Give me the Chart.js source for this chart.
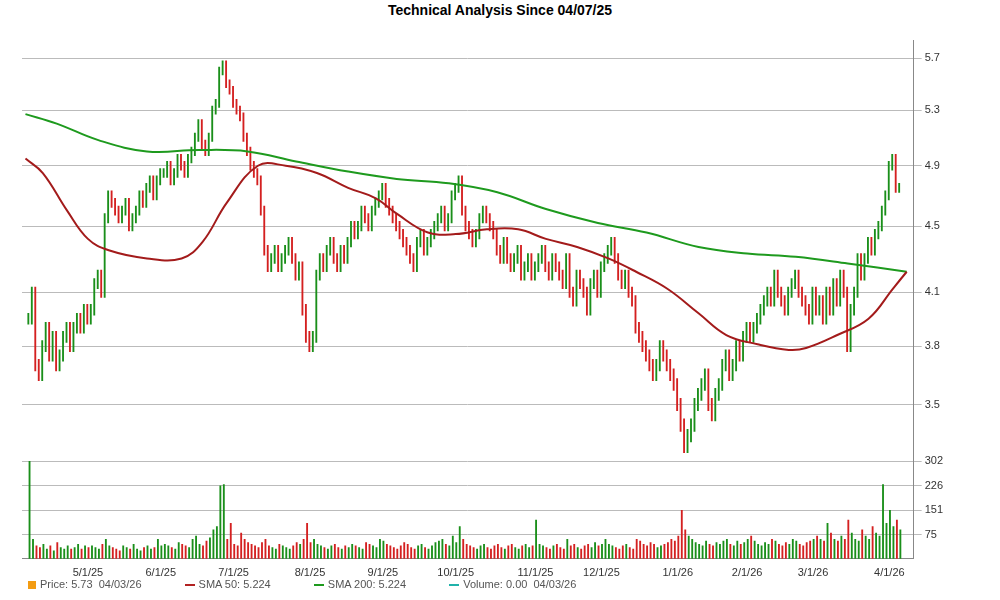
<!DOCTYPE html>
<html>
<head>
<meta charset="utf-8">
<script src="https://cdn.jsdelivr.net/npm/chart.js@4"></script>
<style>
  body { margin: 0; background: #fff; font-family: "Liberation Sans", Arial, sans-serif; }
  #wrap { position: relative; width: 1000px; height: 600px; }
  #title { position: absolute; top: 2px; width: 100%; text-align: center; font-weight: bold; font-size: 14px; }
  #legend { position: absolute; top: 578px; left: 28px; font-size: 11px; color: #555; white-space: nowrap; }
  #legend span.i { display: inline-block; margin-right: 40px; }
  .sw { display: inline-block; width: 8px; height: 8px; margin-right: 4px; vertical-align: middle; }
  .ln { display: inline-block; width: 10px; height: 2px; margin-right: 4px; vertical-align: middle; }
</style>
</head>
<body>
<div id="wrap">
  <div id="title">Technical Analysis Since 04/07/25</div>
  <canvas id="myChart" width="1000" height="580" style="position:absolute;top:0;left:0"></canvas>
  <div id="legend">
    <span class="i"><span class="sw" style="background:#f39c12"></span>Price: 5.73 &nbsp;04/03/26</span>
    <span class="i"><span class="ln" style="background:#b22222"></span>SMA 50: 5.224</span>
    <span class="i"><span class="ln" style="background:#1e9a1e"></span>SMA 200: 5.224</span>
    <span class="i"><span class="ln" style="background:#20b2aa"></span>Volume: 0.00 &nbsp;04/03/26</span>
  </div>
</div>
<script>
const closes = [
  3.95,4.1,3.7,3.65,3.8,3.9,3.75,3.85,3.7,3.75,3.85,3.9,3.8,3.9,3.95,3.9,4.0,3.95,
  4.0,4.15,4.2,4.1,4.55,4.7,4.65,4.6,4.55,4.6,4.65,4.5,4.55,4.6,4.7,4.65,4.75,4.8,4.7,4.8,4.85,
  4.85,4.9,4.8,4.85,4.95,4.9,4.85,4.95,5.0,5.1,5.2,5.05,5.0,5.1,5.3,5.35,5.6,5.65,5.5,5.45,5.35,
  5.3,5.25,5.1,5.0,4.9,4.85,4.8,4.6,4.35,4.25,4.3,4.35,4.25,4.3,4.35,4.4,4.3,4.2,4.25,4.0,3.85,3.8,
  3.85,4.2,4.3,4.25,4.35,4.4,4.3,4.25,4.35,4.3,4.4,4.5,4.45,4.5,4.6,4.55,4.5,4.6,4.65,4.7,4.75,
  4.65,4.6,4.55,4.5,4.45,4.4,4.35,4.3,4.25,4.4,4.45,4.35,4.4,4.45,4.5,4.55,4.6,4.5,4.55,4.7,4.75,
  4.8,4.6,4.5,4.45,4.4,4.45,4.55,4.6,4.55,4.5,4.45,4.35,4.3,4.4,4.3,4.25,4.3,4.35,4.2,4.25,4.3,4.2,4.25,
  4.3,4.35,4.25,4.2,4.3,4.25,4.2,4.15,4.3,4.1,4.05,4.2,4.15,4.1,4.0,4.15,4.2,4.1,4.25,
  4.3,4.35,4.4,4.3,4.2,4.15,4.2,4.1,4.05,3.9,3.85,3.8,3.75,3.7,3.65,3.7,3.8,3.75,3.7,3.65,3.6,3.5,
  3.4,3.3,3.35,3.4,3.5,3.55,3.6,3.65,3.5,3.45,3.55,3.6,3.7,3.75,3.65,3.7,3.8,3.75,3.85,3.9,
  3.85,3.9,3.95,4.0,4.05,4.1,4.05,4.2,4.1,4.05,4.0,4.1,4.15,4.2,4.1,4.05,4.0,3.95,4.1,
  4.0,4.05,3.95,4.1,4.0,4.15,4.05,4.2,4.1,3.8,4.0,4.1,4.3,4.2,4.3,4.4,4.35,4.45,4.5,4.6,4.7,4.9,
  4.95,4.75,4.75
];
const volumes = [
  302,60,40,35,45,30,40,25,50,35,30,40,30,35,45,30,40,35,
  40,35,30,45,60,40,35,30,25,40,35,30,45,30,25,35,40,30,35,60,40,
  45,40,35,30,50,45,40,35,60,70,45,40,55,65,90,100,226,230,60,110,45,
  40,80,60,50,45,40,35,50,60,40,35,30,45,40,35,30,40,50,45,60,110,50,
  60,45,40,35,30,40,45,35,30,40,35,45,40,35,30,50,45,40,35,60,55,
  45,40,35,30,40,50,45,35,30,40,45,35,30,40,50,55,60,45,40,70,50,
  100,60,45,40,35,30,40,45,35,30,40,45,35,30,40,45,35,30,40,45,35,40,120,
  45,40,35,30,40,45,35,30,60,40,45,35,30,40,45,35,50,40,45,
  60,45,40,35,30,40,45,35,30,60,55,45,40,50,45,35,40,45,50,60,55,70,
  150,90,70,60,50,45,40,55,45,40,50,45,55,60,45,40,55,45,50,60,
  70,55,45,40,50,45,60,55,45,40,50,45,60,55,45,40,50,55,60,
  70,60,55,110,80,60,55,70,60,120,80,60,55,90,70,60,100,80,70,230,110,150,
  100,120,90
];
const sma50Idx = [0,5,12,18,24,35,45,51,58,67,75,84,93,101,107,116,124,133,142,150,159,168,176,185,194,202,211,220,225,234,243,250,254];
const sma50Val = [4.95,4.85,4.6,4.42,4.35,4.3,4.3,4.4,4.65,4.9,4.9,4.85,4.75,4.68,4.58,4.46,4.45,4.48,4.48,4.42,4.37,4.3,4.22,4.12,3.98,3.86,3.81,3.78,3.79,3.86,3.95,4.12,4.22];
const sma200Idx = [0,9,21,35,50,64,78,93,107,122,136,150,165,179,194,208,222,237,254];
const sma200Val = [5.27,5.2,5.08,5.0,5.01,5.0,4.93,4.86,4.81,4.78,4.72,4.61,4.52,4.46,4.37,4.33,4.31,4.27,4.22];
const monthIdx = [18,39,60,82,103,124,147,166,188,208,227,249];
const monthLabels = ["5/1/25","6/1/25","7/1/25","8/1/25","9/1/25","10/1/25","11/1/25","12/1/25","1/1/26","2/1/26","3/1/26","4/1/26"];
const priceTicks = [3.5,3.8,4.1,4.5,4.9,5.3,5.7];
const volTicks = [75,151,226,302];

const up = "#1a8f1a", down = "#d42020";
const colors = closes.map((c, i) => (i === 0 || c >= closes[i - 1]) ? up : down);
const ranges = closes.map((c, i) => {
  const o = i === 0 ? c : closes[i - 1];
  return { x: i + 1, y: [Math.min(o, c) - 0.03, Math.max(o, c) + 0.03] };
});

const config = {
  data: {
    datasets: [
      { type: "line", data: sma50Idx.map((x, i) => ({ x: x, y: sma50Val[i] })), borderColor: "#a31b1b", borderWidth: 2, pointRadius: 0, tension: 0.4, yAxisID: "y" },
      { type: "line", data: sma200Idx.map((x, i) => ({ x: x, y: sma200Val[i] })), borderColor: "#1e9a1e", borderWidth: 2, pointRadius: 0, tension: 0.4, yAxisID: "y" },
      { type: "bar", data: ranges, backgroundColor: colors, barThickness: 1.2, yAxisID: "y" },
      { type: "bar", data: volumes.map((v, i) => ({ x: i + 1, y: v })), backgroundColor: colors, barThickness: 1.2, yAxisID: "yv" }
    ]
  },
  options: {
    responsive: false,
    animation: false,
    layout: { padding: { top: 40, left: 22, right: 54, bottom: 0 } },
    plugins: { legend: { display: false }, tooltip: { enabled: false } },
    scales: {
      x: {
        type: "linear", min: -1, max: 256, offset: false,
        afterBuildTicks: s => { s.ticks = monthIdx.map(v => ({ value: v })); },
        ticks: { callback: (v) => monthLabels[monthIdx.indexOf(v)], font: { size: 11 }, color: "#333", maxRotation: 0, autoSkip: false, padding: 0 },
        grid: { display: false },
        border: { color: "#888" }
      },
      y: {
        type: "logarithmic", position: "right", stack: "p", stackWeight: 4.1, min: 3.25, max: 5.85,
        afterBuildTicks: s => { s.ticks = priceTicks.map(v => ({ value: v })); },
        ticks: { callback: v => v.toFixed(1), font: { size: 11 }, color: "#333" },
        grid: { color: "#bbb", borderDash: [3, 3] },
        border: { color: "#888" }
      },
      yv: {
        type: "linear", position: "right", stack: "p", stackWeight: 1, min: 0, max: 315,
        afterBuildTicks: s => { s.ticks = volTicks.map(v => ({ value: v })); },
        ticks: { font: { size: 11 }, color: "#333" },
        grid: { color: "#bbb", borderDash: [3, 3] },
        border: { color: "#888" }
      }
    }
  }
};

const myChart = new Chart(document.getElementById("myChart"), config);
</script>
</body>
</html>
